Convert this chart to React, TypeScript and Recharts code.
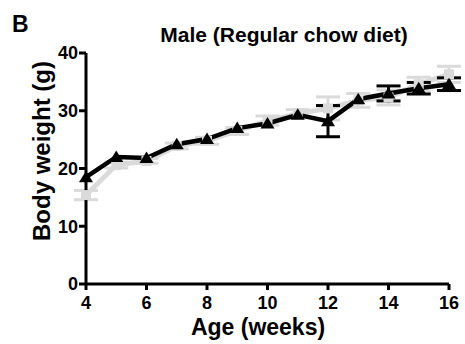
import React from 'react'
import { LineChart, Line, XAxis, YAxis, ErrorBar } from 'recharts'

const FONT = '"Liberation Sans", Arial, Helvetica, sans-serif'

// age in weeks
const weeks = [4, 5, 6, 7, 8, 9, 10, 11, 12, 13, 14, 15, 16]
// mean body weight (g) and SEM, black series (null = bar hidden behind the marker)
const blackMean = [18.5, 22.0, 21.8, 24.2, 25.1, 27.0, 27.8, 29.3, 28.2, 32.0, 33.0, 33.9, 34.6]
const blackSem = [null, null, null, null, null, null, null, null, 2.7, null, 1.3, 1.0, 1.1]
// grey series
const greyMean = [15.4, 20.6, 21.3, 23.9, 24.8, 26.5, 28.3, 29.5, 30.4, 31.8, 32.3, 34.6, 36.3]
const greySem = [0.8, 0.5, 0.4, 0.5, 0.6, 0.6, 0.8, 0.7, 2.0, 1.2, 1.3, 1.2, 1.4]

const xTicks = [4, 6, 8, 10, 12, 14, 16]
const yTicks = [0, 10, 20, 30, 40]

const GREY = '#dadada'

const data = weeks.map((w, i) => ({
  week: w,
  black: blackMean[i],
  blackErr: blackSem[i],
  grey: greyMean[i],
  greyErr: greySem[i],
}))

const Triangle = (props: any) => {
  const { cx, cy } = props
  if (cx == null || cy == null) return null
  return <path d={`M${cx},${cy - 6.5} L${cx + 7},${cy + 5} L${cx - 7},${cy + 5} Z`} fill="#000" />
}

const Square = (props: any) => {
  const { cx, cy } = props
  if (cx == null || cy == null) return null
  return <rect x={cx - 5} y={cy - 5} width={10} height={10} fill={GREY} />
}

const tickStyle = { fill: '#000', fontSize: 18, fontWeight: 700, fontFamily: FONT }

export default function App() {
  return (
    <div style={{ position: 'absolute', left: 0, top: 0, width: 465, height: 344, background: '#fff' }}>
      <LineChart width={465} height={344} data={data} margin={{ top: 53, right: 16, bottom: 0, left: 0 }}>
        <XAxis
          type="number"
          dataKey="week"
          domain={[4, 16]}
          ticks={xTicks}
          height={60}
          axisLine={{ stroke: '#000', strokeWidth: 3 }}
          tickLine={{ stroke: '#000', strokeWidth: 3 }}
          tickSize={6}
          tickMargin={6}
          tick={tickStyle}
        />
        <YAxis
          type="number"
          domain={[0, 40]}
          ticks={yTicks}
          width={86}
          axisLine={{ stroke: '#000', strokeWidth: 3 }}
          tickLine={{ stroke: '#000', strokeWidth: 3 }}
          tickSize={7}
          tickMargin={1}
          tick={tickStyle}
        />
        <Line
          dataKey="grey"
          stroke={GREY}
          strokeWidth={5}
          dot={<Square />}
          activeDot={false}
          isAnimationActive={false}
        >
          <ErrorBar dataKey="greyErr" direction="y" width={12} stroke={GREY} strokeWidth={3} />
        </Line>
        <Line
          dataKey="black"
          stroke="#000"
          strokeWidth={4.5}
          dot={<Triangle />}
          activeDot={false}
          isAnimationActive={false}
        >
          <ErrorBar dataKey="blackErr" direction="y" width={12} stroke="#000" strokeWidth={3} />
        </Line>
      </LineChart>
      <svg
        width={465}
        height={344}
        style={{ position: 'absolute', left: 0, top: 0, pointerEvents: 'none' }}
        fontFamily={FONT}
        fontWeight={700}
      >
        <text x={12} y={32} fontSize={23}>B</text>
        <text x={284} y={42} fontSize={21} textAnchor="middle">Male (Regular chow diet)</text>
        <text x={50} y={151} fontSize={24} textAnchor="middle" transform="rotate(-90 50 151)">
          Body weight (g)
        </text>
        <text x={258} y={335} fontSize={23} textAnchor="middle">Age (weeks)</text>
      </svg>
    </div>
  )
}
